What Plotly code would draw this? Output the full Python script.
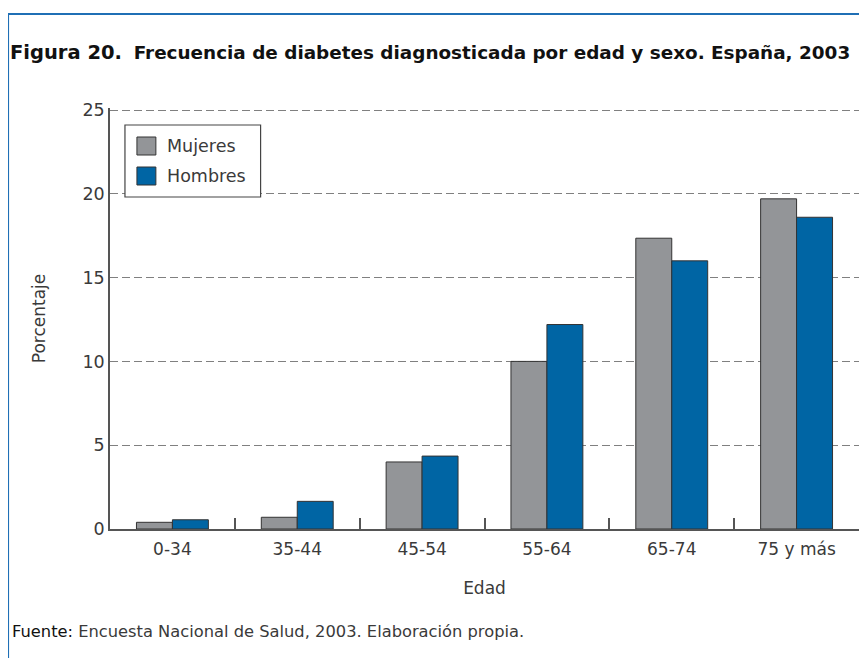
import plotly.graph_objects as go

categories = ["0-34", "35-44", "45-54", "55-64", "65-74", "75 y más"]
mujeres = [0.4, 0.7, 4.0, 10.0, 17.35, 19.7]
hombres = [0.55, 1.65, 4.35, 12.2, 16.0, 18.6]
series_names = ["Mujeres", "Hombres"]
y_ticks = [0, 5, 10, 15, 20, 25]

OFF = 8  # default page body margin
UNIT = (529 - 110) / 25.0  # px per percent
EXTRA = 2.0  # px headroom so the 25 gridline is drawn
Y_TOP = 25 + EXTRA / UNIT

W, H = 867 - OFF, 658 - OFF
L, T = 110 - OFF, 110 - EXTRA - OFF
R = W - (861 - OFF)
B = H - (529 - OFF)
pw = W - L - R
ph = H - T - B

def px_x(x):  # screen px -> paper
    return (x - OFF - L) / pw

def px_y(y):
    return (H - B - (y - OFF)) / ph

GRAY = "#939598"
BLUE = "#0065a4"
EDGE = "#333333"
TXT = "#3a3a3a"
FONT = "DejaVu Sans, Liberation Sans, Arial, sans-serif"

fig = go.Figure()
fig.add_trace(go.Bar(x=categories, y=mujeres, name=series_names[0],
                     marker=dict(color=GRAY, line=dict(color=EDGE, width=1))))
fig.add_trace(go.Bar(x=categories, y=hombres, name=series_names[1],
                     marker=dict(color=BLUE, line=dict(color=EDGE, width=1))))

fig.update_layout(
    width=W, height=H,
    margin=dict(l=L, r=R, t=T, b=B),
    paper_bgcolor="white", plot_bgcolor="white",
    barmode="group", bargap=0.424, bargroupgap=0,
    showlegend=False,
    font=dict(family=FONT, size=17, color=TXT),
    title=dict(
        text="<b><span style='font-size:19.5px'>Figura 20.</span></b>  <b>Frecuencia de diabetes diagnosticada por edad y sexo. España, 2003</b>",
        font=dict(family=FONT, size=18.4, color="#111111"),
        xref="container", yref="container", x=(10 - OFF) / W, xanchor="left",
        y=1 - (53 - OFF) / H, yanchor="middle",
    ),
)

fig.update_xaxes(
    showline=True, linecolor="#555555", linewidth=1.5,
    ticks="inside", tickson="boundaries", ticklen=11, tickcolor="#555555", tickwidth=1.5,
    tickfont=dict(size=17, color=TXT), ticklabelstandoff=4,
    title=dict(text="Edad", font=dict(size=17, color=TXT), standoff=24),
    showgrid=False,
)
fig.update_yaxes(
    range=[0, Y_TOP], tickvals=y_ticks,
    showline=True, mirror=True, linecolor="#555555", linewidth=1.5,
    ticks="", zeroline=False,
    showgrid=True, gridcolor="#808080", gridwidth=1.3, griddash="8px,4px",
    tickfont=dict(size=17.5, color=TXT),
    title=dict(text="Porcentaje", font=dict(size=17, color=TXT), standoff=33),
)

shapes = []
BORDER = "#1f6fb5"
shapes.append(dict(type="line", xref="paper", yref="paper",
                   x0=px_x(7), x1=px_x(867), y0=px_y(14), y1=px_y(14),
                   line=dict(color=BORDER, width=2), layer="above"))
shapes.append(dict(type="line", xref="paper", yref="paper",
                   x0=px_x(8), x1=px_x(8), y0=px_y(13), y1=px_y(658),
                   line=dict(color=BORDER, width=1.6), layer="above"))
shapes.append(dict(type="rect", xref="paper", yref="paper",
                   x0=px_x(125), x1=px_x(261), y0=px_y(125), y1=px_y(197),
                   line=dict(color="#444444", width=1.2), fillcolor="white"))
shapes.append(dict(type="rect", xref="paper", yref="paper",
                   x0=px_x(137), x1=px_x(156), y0=px_y(137), y1=px_y(155),
                   line=dict(color=EDGE, width=1), fillcolor=GRAY))
shapes.append(dict(type="rect", xref="paper", yref="paper",
                   x0=px_x(137), x1=px_x(156), y0=px_y(167), y1=px_y(185),
                   line=dict(color=EDGE, width=1), fillcolor=BLUE))

annotations = [
    dict(text=series_names[0], xref="paper", yref="paper", x=px_x(165), y=px_y(146),
         xanchor="left", yanchor="middle", showarrow=False, font=dict(size=17.5, color=TXT)),
    dict(text=series_names[1], xref="paper", yref="paper", x=px_x(165), y=px_y(176),
         xanchor="left", yanchor="middle", showarrow=False, font=dict(size=17.5, color=TXT)),
    dict(text="<span style='color:#111111'>Fuente:</span> Encuesta Nacional de Salud, 2003. Elaboración propia.",
         xref="paper", yref="paper", x=px_x(10), y=px_y(631),
         xanchor="left", yanchor="middle", showarrow=False, font=dict(size=16.3, color=TXT)),
]

fig.update_layout(shapes=shapes, annotations=annotations)

fig.write_html("out.html")
